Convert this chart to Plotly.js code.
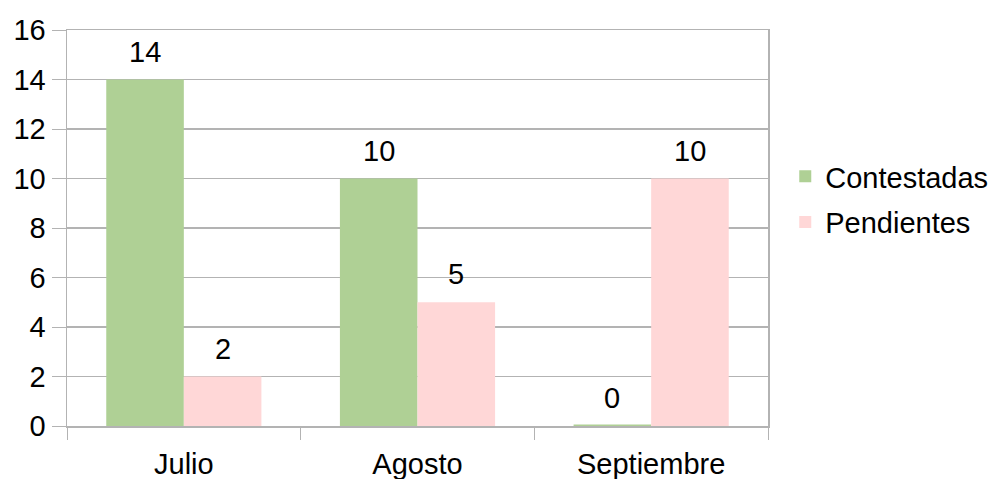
<!DOCTYPE html>
<html>
<head>
<meta charset="utf-8">
<script src="https://cdn.plot.ly/plotly-3.0.1.min.js"></script>
<style>html,body{margin:0;padding:0;background:#fff;}#chart{width:994px;height:479px;}</style>
</head>
<body>
<div id="chart"></div>
<script>
const categories = ["Julio", "Agosto", "Septiembre"];
const contestadas = [14, 10, 0];
const pendientes = [2, 5, 10];
const seriesNames = ["Contestadas", "Pendientes"];
const yTicks = [0, 2, 4, 6, 8, 10, 12, 14, 16];

const font = {family: "Liberation Sans, Arial, sans-serif", size: 29, color: "#000"};

const traces = [
  {
    type: "bar", name: seriesNames[0], x: categories, y: contestadas, legendgroup: "a",
    marker: {color: "#afd095", line: {color: "#afd095", width: contestadas.map(v => v === 0 ? 3 : 0)}},
    hoverinfo: "none"
  },
  {
    type: "bar", name: seriesNames[1], x: categories, y: pendientes, legendgroup: "b",
    marker: {color: "#ffd7d7"},
    hoverinfo: "none"
  }
];

const plotW = 994 - 67 - 226;
const barPx = plotW / categories.length * (1 - 0.336) / 2;
const annotations = [];
[contestadas, pendientes].forEach((vals, si) => {
  vals.forEach((v, i) => {
    annotations.push({
      x: categories[i], y: v, xref: "x", yref: "y",
      text: String(v), showarrow: false, yanchor: "bottom",
      xshift: (si === 0 ? -1 : 1) * barPx / 2, yshift: 10,
      font: font
    });
  });
});

const layout = {
  width: 994, height: 479,
  margin: {l: 67, r: 226, t: 30, b: 53},
  paper_bgcolor: "#fff", plot_bgcolor: "#fff",
  font: font,
  barmode: "group", bargap: 0.336, bargroupgap: 0,
  showlegend: true,
  legend: {xref: "container", yref: "paper", x: 0.790, y: 0.572, xanchor: "left", yanchor: "middle",
           font: font, itemwidth: 30, tracegroupgap: 5},
  annotations: annotations,
  xaxis: {
    type: "category", tickson: "boundaries", ticks: "outside", ticklen: 12, tickcolor: "#b3b3b3",
    showline: true, linecolor: "#b3b3b3", linewidth: 1.5, mirror: true, ticklabelstandoff: 12,
    showgrid: false, tickfont: font, fixedrange: true, automargin: false
  },
  yaxis: {
    range: [0, 16], tickvals: yTicks, ticktext: yTicks.map(String),
    ticks: "outside", ticklen: 14, tickcolor: "#b3b3b3",
    showgrid: true, gridcolor: "#b3b3b3", gridwidth: 1.5,
    showline: true, linecolor: "#b3b3b3", linewidth: 1.5, mirror: true,
    zeroline: false, tickfont: font, fixedrange: true, automargin: false
  }
};

Plotly.newPlot("chart", traces, layout, {displayModeBar: false, staticPlot: true});
</script>
</body>
</html>
